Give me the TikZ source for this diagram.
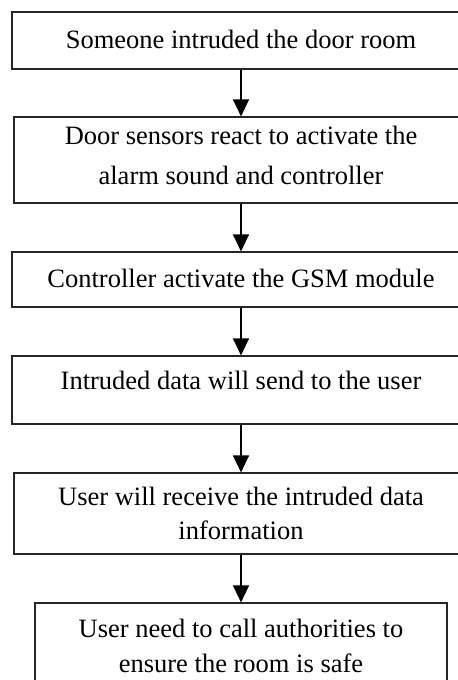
\documentclass[tikz,border=0pt]{standalone}
\usepackage{fontspec}
\setmainfont{Liberation Serif}
\usetikzlibrary{arrows.meta}
\tikzset{
  stepbox/.style={draw=black!85, line width=0.6pt, inner sep=0pt, align=center,
    font=\fontsize{13.25}{17}\selectfont},
  flow/.style={-{Triangle[length=8.5pt,width=8pt]}, line width=0.7pt}
}

\begin{document}
\begin{tikzpicture}[x=0.5pt,y=-0.5pt]
    \useasboundingbox (0,0) rectangle (458,680);
    \clip (0,0) rectangle (458,680);
    \node[stepbox, minimum width=229pt, minimum height=28.5pt, text depth=1.5pt] (intrude) at (241,40.5) {Someone intruded the door room};
    \node[stepbox, minimum width=227pt, minimum height=43pt, text depth=5pt, font=\fontsize{13.25}{20}\selectfont] (sensor) at (241,160) {Door sensors react to activate the\\alarm sound and controller};
    \node[stepbox, minimum width=229pt, minimum height=27.5pt, text depth=1.5pt] (gsm) at (241,279.5) {Controller activate the GSM module};
    \node[stepbox, minimum width=229pt, minimum height=34pt, text depth=10pt] (send) at (241,390) {Intruded data will send to the user};
    \node[stepbox, minimum width=227pt, minimum height=40.5pt] (receive) at (241,513.5) {User will receive the intruded data\\information};
    \node[stepbox, minimum width=206pt, minimum height=43pt, font=\fontsize{13.25}{17.5}\selectfont] (call) at (241,646) {User need to call authorities to\\ensure the room is safe};

    \draw[flow] (intrude) -- (sensor);
    \draw[flow] (sensor) -- (gsm);
    \draw[flow] (gsm) -- (send);
    \draw[flow] (send) -- (receive);
    \draw[flow] (receive) -- (call);
\end{tikzpicture}
\end{document}
